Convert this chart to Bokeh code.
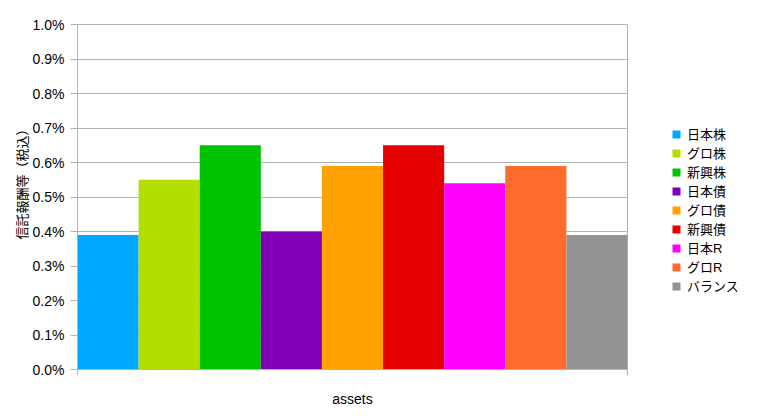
import numpy as np
from bokeh.plotting import figure, ColumnDataSource
from bokeh.models import Range1d, FixedTicker, PrintfTickFormatter, Legend, LegendItem, Title
from bokeh.embed import file_html
from bokeh.resources import INLINE

# 信託報酬等（税込）, in percent
assets = ["日本株", "グロ株", "新興株", "日本債", "グロ債", "新興債", "日本R", "グロR", "バランス"]
fees = [0.39, 0.55, 0.65, 0.40, 0.59, 0.65, 0.54, 0.59, 0.39]
colors = ["#00a8ff", "#b2df00", "#00c300", "#8100b7", "#ffa100",
          "#e40000", "#ff00ff", "#ff6b2b", "#939393"]
y_ticks = [0.0, 0.1, 0.2, 0.3, 0.4, 0.5, 0.6, 0.7, 0.8, 0.9, 1.0]

FONT = "'Liberation Sans', 'Noto Sans CJK JP', sans-serif"
GRID = "#b3b3b3"

n = len(assets)
source = ColumnDataSource(dict(
    x=np.arange(n) + 0.5,
    top=fees,
    color=colors,
    name=assets,
))

p = figure(frame_width=550, frame_height=345,
           min_border_left=77, min_border_top=24, min_border_bottom=45, min_border_right=125,
           x_range=Range1d(0, n), y_range=Range1d(0, 1.0),
           output_backend="svg", toolbar_location=None)

r = p.vbar(x="x", top="top", width=1.0, bottom=0, color="color", line_color=None, source=source)

# y axis label as a side title so it can sit a little above centre
ylab = Title(text="信託報酬等（税込）", align="right", offset=98,
             text_font=FONT, text_font_size="13px", text_font_style="normal",
             text_color="black", standoff=0)
p.add_layout(ylab, "left")

# axes
p.yaxis.ticker = FixedTicker(ticks=y_ticks)
p.yaxis.formatter = PrintfTickFormatter(format="%.1f%%")
p.yaxis.major_label_text_font = FONT
p.yaxis.major_label_text_font_size = "14px"
p.yaxis.major_label_text_color = "black"
p.yaxis.major_label_standoff = 6
p.yaxis.major_tick_out = 7
p.yaxis.major_tick_in = 0
p.yaxis.minor_tick_line_color = None
p.yaxis.axis_line_color = GRID
p.yaxis.major_tick_line_color = GRID

p.xaxis.ticker = FixedTicker(ticks=[0, n])
p.xaxis.major_label_overrides = {0: "", n: ""}
p.xaxis.major_label_standoff = 0
p.xaxis.axis_label = "assets"
p.xaxis.axis_label_text_font_style = "normal"
p.xaxis.axis_label_text_font_size = "14px"
p.xaxis.axis_label_text_font = FONT
p.xaxis.axis_label_text_color = "black"
p.xaxis.axis_label_standoff = 15
p.xaxis.major_tick_out = 6
p.xaxis.major_tick_in = 0
p.xaxis.minor_tick_line_color = None
p.xaxis.axis_line_color = GRID
p.xaxis.major_tick_line_color = GRID

p.xgrid.grid_line_color = None
p.ygrid.grid_line_color = GRID
p.outline_line_color = GRID
p.outline_line_alpha = 1.0

items = [LegendItem(label=a, renderers=[r], index=i) for i, a in enumerate(assets)]
legend = Legend(items=items, location=(44, 74), orientation="vertical",
                border_line_color=None, background_fill_alpha=0,
                glyph_width=10, glyph_height=10, label_height=19, spacing=0,
                padding=0, margin=0, label_standoff=6,
                label_text_font=FONT, label_text_font_size="13px",
                label_text_color="black")
p.add_layout(legend, "right")

open("out.html", "w").write(file_html(p, INLINE))
